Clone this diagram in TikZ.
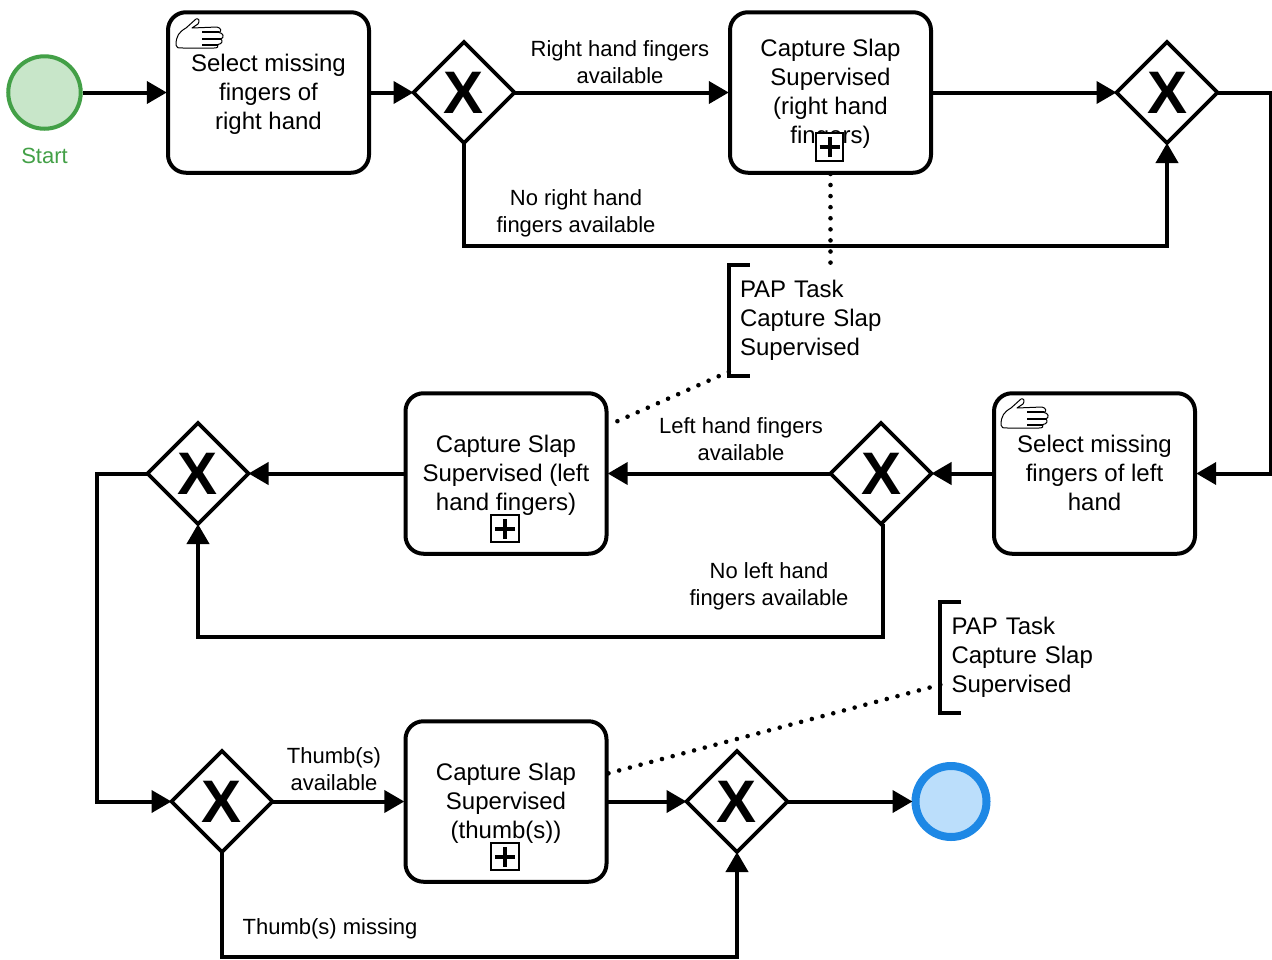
\documentclass[tikz,border=0pt]{standalone}
\usepackage{fontspec}
\setmainfont{Liberation Sans}
\usetikzlibrary{shapes,arrows.meta}
\definecolor{startline}{HTML}{43A047}
\definecolor{startfill}{HTML}{C8E6C9}
\definecolor{endline}{HTML}{1E88E5}
\definecolor{endfill}{HTML}{BBDEFB}
\newcommand{\gwsign}{\fontsize{60}{60}\selectfont\bfseries X}
\tikzset{
	task/.style={draw,line width=4pt,rounded corners=18pt,minimum width=201pt,minimum height=160.5pt,align=center,font=\fontsize{24}{29}\selectfont,inner sep=0pt,outer sep=1.2pt,text depth=1.5pt},
	gateway/.style={draw,diamond,line width=3.6pt,minimum size=101pt,inner sep=0pt,outer sep=0pt,fill=white},
	flow/.style={line width=4pt,-{Triangle[length=20pt,width=22pt]}},
	assoc/.style={line width=4.6pt,line cap=round,dash pattern=on 0pt off 11.08pt},
	bracket/.style={line width=4pt},
	note/.style={text width=150pt,inner xsep=11pt,inner ysep=0pt,minimum height=110pt,align=left,font=\fontsize{24}{29}\selectfont},
	flowlabel/.style={align=center,font=\fontsize{22}{27}\selectfont,inner sep=0pt},
	plusbox/.style={draw,fill=white,line width=2pt,minimum size=27.5pt,inner sep=0pt,path picture={
		\draw[line width=4pt] ([xshift=-10pt]path picture bounding box.center) -- ([xshift=10pt]path picture bounding box.center);
		\draw[line width=4pt] ([yshift=-10pt]path picture bounding box.center) -- ([yshift=10pt]path picture bounding box.center);}},
	handicon/.pic={
		\draw[line width=1pt,line join=round] (0,-27) .. controls (0,-18) and (3,-14) .. (10,-10)
			-- (20,-1) .. controls (23,0) and (24,-3) .. (22,-6)
			-- (16,-10) -- (41,-9) .. controls (45,-10) and (46,-13) .. (43,-14.5)
			.. controls (47,-15) and (49,-19) .. (45,-21)
			.. controls (47,-23) and (46,-26) .. (42,-26.5)
			.. controls (43,-29) and (41,-30) .. (38,-30)
			-- (7,-30) .. controls (2,-30) and (0,-30) .. (0,-27);
		\draw[line width=2pt] (26,-14) -- (43,-14) (26,-20.5) -- (45,-20.5) (26,-26.5) -- (42,-26.5);
	}
}
\begin{document}
\begin{tikzpicture}[x=1pt,y=1pt,node distance=3em]
	\useasboundingbox (0,0) rectangle (1272,-959);
	%first row
	\node[circle,draw=startline,fill=startfill,line width=4pt,minimum size=72.5pt,inner sep=0pt] (start) at (44.5,-92.5) {};
	\node[below of=start,node distance=63pt,text=startline,font=\fontsize{22}{27}\selectfont,inner sep=0pt] (startlabel) {Start};
	\node[task,right of=start,node distance=224pt] (selright) {Select missing\\fingers of\\right hand};
	\node[gateway,right of=selright,node distance=195.5pt] (gwa) {\gwsign};
	\node[task,right of=gwa,node distance=366.5pt] (capright) {Capture Slap\\Supervised\\(right hand\\fingers)};
	\node[plusbox,below of=capright,node distance=54.5pt,xshift=-1pt] (plusright) {};
	\node[gateway,right of=capright,node distance=336.5pt] (gwb) {\gwsign};
	\coordinate[right of=gwb,node distance=104pt] (vgwb);
	\coordinate[below of=gwa,node distance=153pt] (vgwa);

	\pic at (176,-18) {handicon};

	\node[flowlabel,right of=gwa,node distance=156pt,yshift=30.5pt] (lrightyes) {Right hand fingers\\available};
	\node[flowlabel,below of=gwa,node distance=120.5pt,xshift=112pt] (lrightno) {No right hand\\fingers available};

	%second row
	\node[task,below of=gwb,node distance=381pt,xshift=-72.5pt] (selleft) {Select missing\\fingers of left\\hand};
	\node[gateway,left of=selleft,node distance=213.5pt] (gwc) {\gwsign};
	\node[task,left of=gwc,node distance=375pt] (capleft) {Capture Slap\\Supervised (left\\hand fingers)};
	\node[plusbox,below of=capleft,node distance=55pt,xshift=-1pt] (plusleft) {};
	\node[gateway,left of=capleft,node distance=308pt] (gwd) {\gwsign};
	\coordinate[left of=gwd,node distance=101pt] (vgwd);
	\coordinate[below of=gwc,node distance=163pt,xshift=2pt] (vgwc);

	\pic at (1001,-398) {handicon};

	\node[flowlabel,left of=gwc,node distance=140pt,yshift=34pt] (lleftyes) {Left hand fingers\\available};
	\node[flowlabel,below of=gwc,node distance=112.5pt,xshift=-112pt] (lleftno) {No left hand\\fingers available};

	%third row
	\node[gateway,below of=gwd,node distance=328pt,xshift=24pt] (gwe) {\gwsign};
	\node[task,right of=gwe,node distance=284pt] (capthumb) {Capture Slap\\Supervised\\(thumb(s))};
	\node[plusbox,below of=capthumb,node distance=55pt,xshift=-1pt] (plusthumb) {};
	\node[gateway,right of=capthumb,node distance=231pt] (gwf) {\gwsign};
	\node[circle,draw=endline,fill=endfill,line width=8pt,minimum size=71pt,inner sep=0pt,outer sep=3pt,right of=gwf,node distance=214pt] (endev) {};
	\coordinate[below of=gwe,node distance=155.5pt] (vgwe);

	\node[flowlabel,right of=gwe,node distance=112pt,yshift=32pt] (lthumbyes) {Thumb(s)\\available};
	\node[flowlabel,right of=gwe,node distance=108pt,yshift=-127.5pt] (lthumbno) {Thumb(s) missing};

	%notes
	\node[note,below of=capright,node distance=228pt,xshift=-15.5pt] (notea) {PAP Task\\Capture Slap\\Supervised};
	\node[note,above of=endev,node distance=144pt,xshift=75.5pt] (noteb) {PAP Task\\Capture Slap\\Supervised};
	\draw[bracket] ([xshift=21pt]notea.north west) -- (notea.north west) -- (notea.south west) -- ([xshift=21pt]notea.south west);
	\draw[bracket] ([xshift=21pt]noteb.north west) -- (noteb.north west) -- (noteb.south west) -- ([xshift=21pt]noteb.south west);
	\draw[assoc] (capright.south) -- (capright.south |- notea.north);
	\draw[assoc] ([yshift=4pt]notea.south west) -- ([yshift=48pt]capleft.east);
	\draw[assoc] ([yshift=28pt]noteb.south west) -- ([yshift=28pt]capthumb.east);

	%flows
	\draw[flow] (start) -- (selright);
	\draw[flow] (selright) -- (gwa);
	\draw[flow] (gwa) -- (capright);
	\draw[flow] (capright) -- (gwb);
	\draw[flow] (gwa.south) -- (vgwa) -| (gwb.south);
	\draw[flow] (gwb.east) -- (vgwb) |- (selleft.east);
	\draw[flow] (selleft) -- (gwc);
	\draw[flow] (gwc) -- (capleft);
	\draw[flow] (capleft) -- (gwd);
	\draw[flow] (gwc.south -| vgwc) -- (vgwc) -| (gwd.south);
	\draw[flow] (gwd.west) -- (vgwd) |- (gwe.west);
	\draw[flow] (gwe) -- (capthumb);
	\draw[flow] (capthumb) -- (gwf);
	\draw[flow] (gwe.south) -- (vgwe) -| (gwf.south);
	\draw[flow] (gwf) -- (endev);
\end{tikzpicture}
\end{document}
